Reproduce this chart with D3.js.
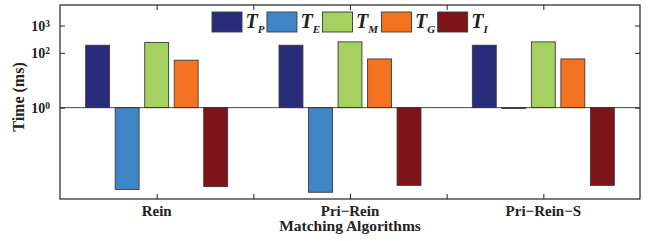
<!DOCTYPE html>
<html>
<head>
<meta charset="utf-8">
<script src="https://cdn.jsdelivr.net/npm/d3@7"></script>
<style>
  body { margin: 0; background: #fff; }
  svg { display: block; font-family: "Liberation Serif", "DejaVu Serif", serif; font-weight: bold; }
</style>
</head>
<body>
<svg id="chart" width="649" height="241"></svg>
<script>
// data (ms, log scale)
const algorithms = ["Rein", "Pri\u2212Rein", "Pri\u2212Rein\u2212S"];
const seriesKeys = ["P", "E", "M", "G", "I"];
const tP = [190, 190, 190];
const tE = [0.00103, 0.00081, 0.95];
const tM = [240, 252, 252];
const tG = [54, 60, 60];
const tI = [0.0013, 0.00145, 0.00145];
const yTickValues = [1, 100, 1000];
const colors = ["#282a7a", "#4085c6", "#a6d060", "#f47321", "#7c1418"];

const values = [tP, tE, tM, tG, tI];

const svg = d3.select("#chart");
const serif = "Liberation Serif";
const plotLeft = 60, plotRight = 640, plotTop = 5, plotBottom = 199;

const x0 = d3.scaleBand().domain(algorithms).range([plotLeft, plotRight]).padding(0);
const x1 = d3.scaleBand().domain(seriesKeys).range([0, x0.bandwidth()])
  .paddingInner(0.19).paddingOuter(0.87);
const y = d3.scaleLog().domain([0.00046, 5600]).range([plotBottom, plotTop]);
const color = d3.scaleOrdinal().domain(seriesKeys).range(colors);

// bars
const rows = [];
algorithms.forEach((a, i) => {
  seriesKeys.forEach((k, j) => rows.push({ alg: a, key: k, value: values[j][i] }));
});

svg.append("g").selectAll("rect")
  .data(rows)
  .enter()
  .append("rect")
  .attr("x", d => x0(d.alg) + x1(d.key))
  .attr("width", x1.bandwidth())
  .attr("y", d => Math.min(y(d.value), y(1)))
  .attr("height", d => Math.max(Math.abs(y(d.value) - y(1)), 0.8))
  .attr("fill", d => color(d.key))
  .attr("stroke", "#3a3a3a")
  .attr("stroke-width", 0.9);

// baseline at 10^0
svg.append("line")
  .attr("x1", plotLeft).attr("x2", plotRight)
  .attr("y1", y(1)).attr("y2", y(1))
  .attr("stroke", "#333").attr("stroke-width", 0.9);

// axes
const supFormat = function (d) {
  const t = d3.select(this);
  t.text(null);
  t.append("tspan").text("10");
  t.append("tspan").attr("dy", "-0.45em").attr("font-size", "9.5px").text(Math.round(Math.log10(d)));
};

const yAxis = svg.append("g")
  .attr("transform", `translate(${plotLeft},0)`)
  .call(d3.axisLeft(y).tickValues(yTickValues).tickSize(-5).tickPadding(10).tickFormat(""))
  .attr("font-family", serif);
yAxis.selectAll(".tick text")
  .attr("font-size", "14px").attr("fill", "#222").attr("dy", "0.36em")
  .each(supFormat);

svg.append("g")
  .attr("transform", `translate(${plotRight},0)`)
  .call(d3.axisRight(y).tickValues(yTickValues).tickSize(-5).tickFormat(""));

const xTicks = algorithms.map(a => x0(a) + x0.bandwidth() / 2)
  .concat(algorithms.slice(1).map(a => x0(a)));
const xLin = d3.scaleLinear().domain([plotLeft, plotRight]).range([plotLeft, plotRight]);

svg.append("g")
  .attr("transform", `translate(0,${plotBottom})`)
  .call(d3.axisBottom(xLin).tickValues(xTicks).tickSize(-5).tickFormat(""));
svg.append("g")
  .attr("transform", `translate(0,${plotTop})`)
  .call(d3.axisTop(xLin).tickValues(xTicks).tickSize(-5).tickFormat(""));

const xAxis = svg.append("g")
  .attr("transform", `translate(0,${plotBottom})`)
  .call(d3.axisBottom(x0).tickSize(0).tickPadding(6))
  .attr("font-family", serif);
xAxis.selectAll("text").attr("font-size", "15px").attr("fill", "#222");

svg.selectAll(".domain").remove();
svg.selectAll(".tick line").attr("stroke", "#222");

// frame
svg.append("rect")
  .attr("x", plotLeft).attr("y", plotTop)
  .attr("width", plotRight - plotLeft).attr("height", plotBottom - plotTop)
  .attr("fill", "none").attr("stroke", "#222").attr("stroke-width", 1.2);

// axis titles
svg.append("text")
  .attr("x", (plotLeft + plotRight) / 2).attr("y", 231)
  .attr("text-anchor", "middle").attr("font-size", "15.5px").attr("fill", "#222")
  .text("Matching Algorithms");

svg.append("text")
  .attr("transform", "translate(24,97) rotate(-90)")
  .attr("text-anchor", "middle").attr("font-size", "16px").attr("fill", "#222")
  .text("Time (ms)");

// legend
let lx = 212;
seriesKeys.forEach(k => {
  const g = svg.append("g");
  g.append("rect")
    .attr("x", lx).attr("y", 12).attr("width", 30).attr("height", 20)
    .attr("fill", color(k)).attr("stroke", "#3a3a3a").attr("stroke-width", 0.9);
  const t = g.append("text")
    .attr("x", lx + 33.5).attr("y", 27.5)
    .attr("font-size", "20px").attr("font-style", "italic").attr("fill", "#222");
  t.append("tspan").text("T");
  t.append("tspan").attr("dy", "5").attr("font-size", "11px").text(k);
  const w = t.node().getComputedTextLength();
  lx += 33.5 + w + 2.5 + (k === "M" ? 1 : 0);
});
</script>
</body>
</html>
